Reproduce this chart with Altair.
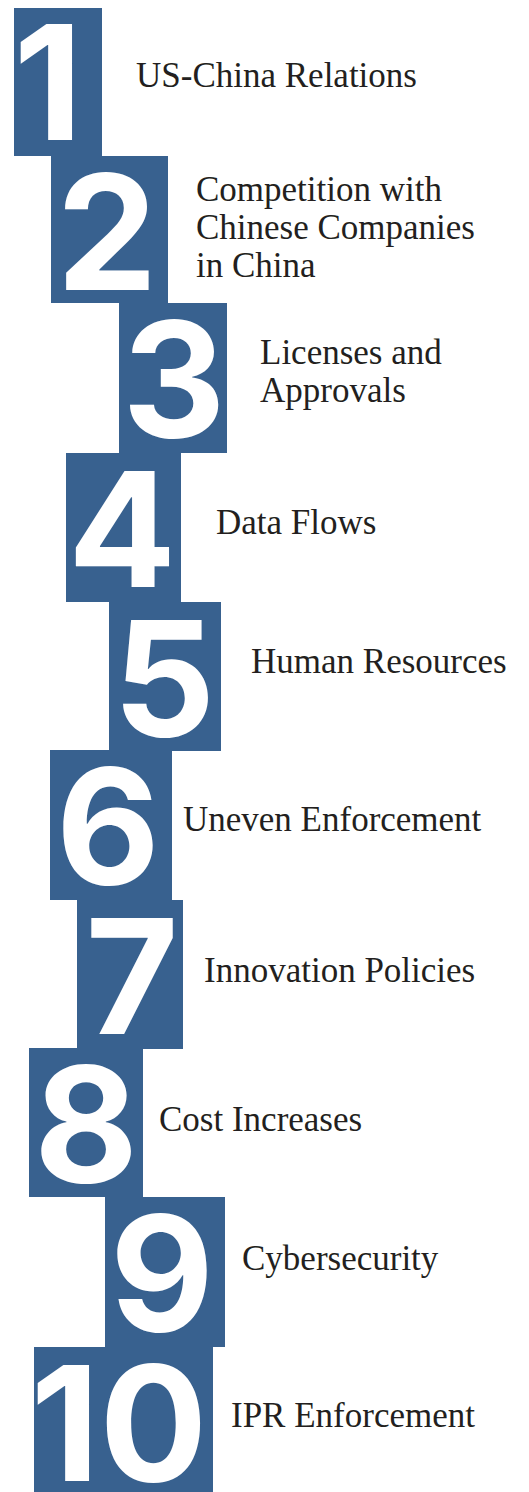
import altair as alt
import pandas as pd

# ---- data (page pixel units) ----
ranks = ["1", "2", "3", "4", "5", "6", "7", "8", "9", "10"]
labels = [
    "US-China Relations",
    "Competition with\nChinese Companies\nin China",
    "Licenses and\nApprovals",
    "Data Flows",
    "Human Resources",
    "Uneven Enforcement",
    "Innovation Policies",
    "Cost Increases",
    "Cybersecurity",
    "IPR Enforcement",
]
box_left = [14, 51, 119, 66, 109, 50, 77, 29, 105, 34]
box_right = [102, 168, 227, 181, 221, 172, 183, 143, 225, 213]
box_top = [6, 156, 303, 453, 602, 750, 900, 1048, 1197, 1347]
box_bottom = [156, 303, 453, 602, 751, 900, 1049, 1197, 1347, 1496]
num_x = [48, 107, 174, 122, 164, 108, 132, 86, 162, 119]
label_x = [136, 196, 260, 216, 251, 183, 204, 159, 242, 231]
label_y = [87, 201, 364, 534, 673, 831, 982, 1131, 1270, 1427]

df = pd.DataFrame({
    "rank": ranks, "label": labels,
    "x0": box_left, "x1": box_right, "y0": box_top, "y1": box_bottom,
    "nx": num_x, "lx": label_x, "ly": label_y,
})

W, H = 513, 1484
xs = alt.Scale(domain=[0, 529], range=[-8, 521])
ys = alt.Scale(domain=[0, 1492], range=[-8, 1484])

base = alt.Chart(df)

boxes = base.mark_rect(color="#38618f", clip=False).encode(
    x=alt.X("x0:Q", scale=xs, axis=None),
    x2="x1:Q",
    y=alt.Y("y0:Q", scale=ys, axis=None),
    y2="y1:Q",
)

nums = base.transform_calculate(ny="datum.y0 + 134").mark_text(
    font="Inter", fontWeight=700, fontSize=160, color="#ffffff",
    align="center", baseline="alphabetic", clip=False,
).encode(
    x=alt.X("nx:Q", scale=xs, axis=None),
    y=alt.Y("ny:Q", scale=ys, axis=None),
    text="rank:N",
)

texts = base.mark_text(
    font="Liberation Serif", fontSize=35, color="#231f20",
    align="left", baseline="alphabetic", lineBreak="\n", lineHeight=38,
    clip=False,
).encode(
    x=alt.X("lx:Q", scale=xs, axis=None),
    y=alt.Y("ly:Q", scale=ys, axis=None),
    text="label:N",
)

chart = alt.layer(boxes, nums, texts).properties(
    width=W, height=H, autosize=alt.AutoSizeParams(type="none"), padding=0,
    background="#ffffff",
).configure_view(stroke=None)

chart.save("out.html", embed_options={"renderer": "svg", "actions": False})
